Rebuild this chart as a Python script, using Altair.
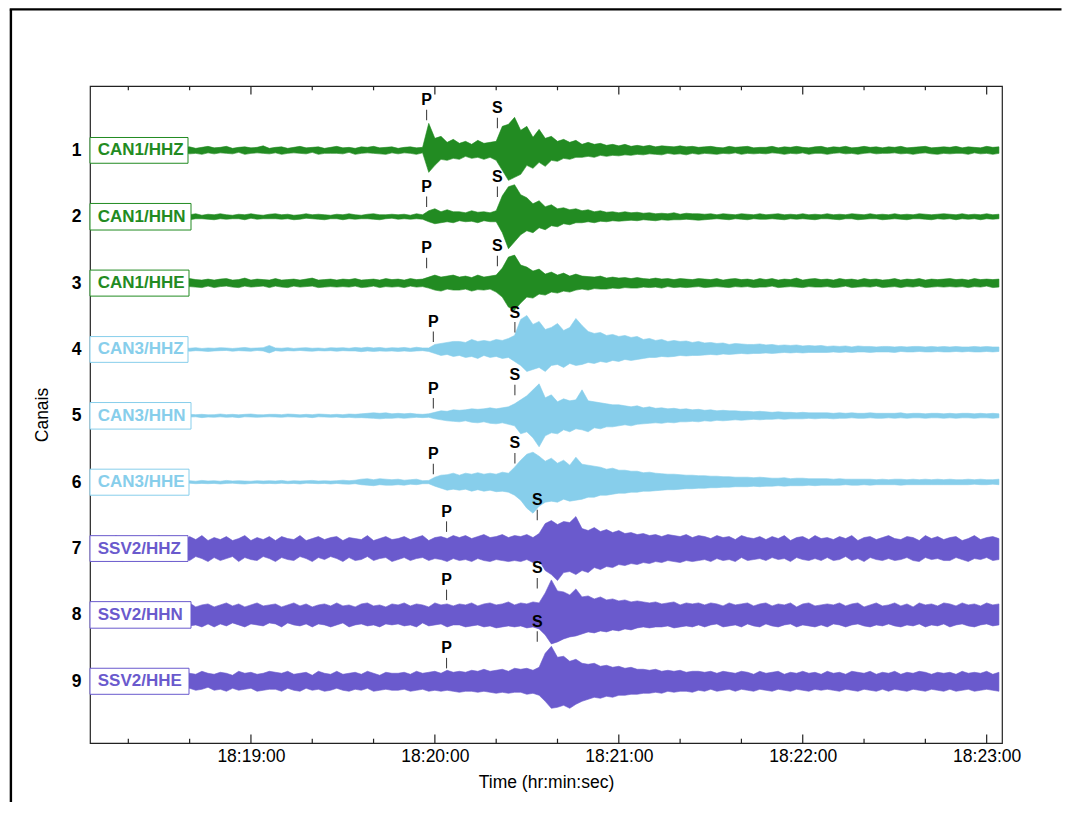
import altair as alt
import pandas as pd

# ---------------- data ----------------
# time axis: samples every 2 s, starting 8 s after 18:18:00
T_START = 8.0
T_STEP = 2.0

trace_names = ["CAN1/HHZ", "CAN1/HHN", "CAN1/HHE",
               "CAN3/HHZ", "CAN3/HHN", "CAN3/HHE",
               "SSV2/HHZ", "SSV2/HHN", "SSV2/HHE"]
trace_channel = [1, 2, 3, 4, 5, 6, 7, 8, 9]
stations = ["CAN1", "CAN3", "SSV2"]
station_colors = ["#228B22", "#87CEEB", "#6A5ACD"]

# upward / downward excursion of each trace (66.4 units = one trace spacing)
up_can1_hhz = [3, 2, 3.5, 4, 2.5, 3, 2, 4.5, 3, 2.5,  3.5, 2, 3, 2.5, 4, 3, 3.5, 2, 3, 4,
               2.5, 3, 4, 2, 3, 3.5, 2.5, 3, 4.5, 2,  3, 3.5, 2, 3, 4, 2.5, 3, 3.5, 2, 3,
               4, 2.5, 3, 2, 3.5, 3, 4, 2.5, 3, 3.5,  2, 3, 3.5, 2.5, 3, 27, 12, 14, 8, 11,
               7, 9, 6, 10, 7, 8, 9, 24, 26, 33,  20, 24, 13, 21, 12, 14, 9, 11, 8, 10,
               6, 8, 6, 7, 5, 6, 4.5, 6, 4, 5,  4, 5, 3.5, 4.5, 4, 3.5, 4.5, 3.5, 4, 3,
               3.5, 4, 3, 2.5, 4, 3, 3.5, 4, 2.5, 3,  3, 4, 2.5, 3.5, 3, 4, 3, 2.5, 3.5, 4,
               2.5, 3.5, 3, 4, 2.5, 3, 4, 3, 3.5, 2.5,  3.5, 3, 4, 2.5, 3, 3.5, 4, 2.5, 3, 3.5,
               3, 4, 2.5, 3.5, 3, 2.5, 4, 3, 3.5]
dn_can1_hhz = [2.5, 3.5, 3, 2, 4, 3, 3.5, 2.5, 3, 4,  3, 3.5, 2.5, 4, 3, 2, 3.5, 3, 4, 2.5,
               3.5, 2.5, 3, 3.5, 2, 4, 3, 2.5, 3, 3.5,  2.5, 4, 3, 2.5, 3, 3.5, 2, 4, 3, 3,
               3, 3.5, 2, 4, 3, 2.5, 3, 3.5, 4, 2.5,  3.5, 2.5, 3, 4, 2.5, 22, 15, 9, 10, 8,
               9, 6, 8, 7, 9, 7, 10, 20, 30, 27,  24, 15, 18, 12, 16, 10, 11, 8, 9, 7,
               7, 6, 7, 5, 6, 5, 5.5, 4.5, 5, 4,  4.5, 3.5, 4, 4.5, 3, 4, 3.5, 4.5, 3, 4,
               3, 3.5, 4, 3, 3.5, 2.5, 4, 3, 3.5, 3,  3.5, 2.5, 3, 4, 3, 3.5, 2.5, 4, 3, 3,
               4, 3, 2.5, 3.5, 3, 4, 3, 2.5, 3.5, 3,  3, 2.5, 3.5, 3, 4, 3, 2.5, 3.5, 4, 3,
               3.5, 3, 3, 4, 2.5, 3.5, 3, 4, 3]
up_can1_hhn = [2, 1.5, 2.5, 3, 2, 1.5, 2.5, 2, 3, 1.5,  2.5, 2, 1.5, 3, 2.5, 2, 2, 3, 1.5, 2.5,
               2, 3, 2, 1.5, 2.5, 2, 3, 2, 1.5, 2.5,  3, 2, 2.5, 1.5, 2, 3, 2, 2.5, 2, 1.5,
               2.5, 2, 3, 2, 1.5, 2.5, 3, 2, 2, 2.5,  2, 2.5, 1.5, 3, 2, 6, 8, 5, 7, 5,
               5, 4, 6, 4.5, 5, 4, 6, 21, 30, 32,  22, 19, 13, 16, 10, 12, 8, 9, 7, 8,
               6, 7, 5, 6, 4.5, 5, 4, 5, 4, 4.5,  3.5, 4, 3, 3.5, 3, 4, 2.5, 3.5, 3, 3,
               2.5, 3, 2, 3, 2.5, 2, 3, 2.5, 2, 3,  2, 2.5, 3, 2, 2.5, 2, 3, 2, 2.5, 2,
               3, 2, 2.5, 2, 3, 2.5, 2, 3, 2, 2.5,  2, 3, 2, 2.5, 2, 3, 2.5, 2, 2.5, 3,
               2.5, 2, 3, 2, 2.5, 2, 3, 2, 2.5]
dn_can1_hhn = [2.5, 2, 2, 1.5, 3, 2.5, 2, 1.5, 2.5, 2,  2, 2.5, 3, 2, 1.5, 2.5, 3, 2, 2, 2.5,
               3, 2, 2.5, 2, 2, 3, 1.5, 2.5, 2, 2,  2, 2.5, 2, 3, 2.5, 1.5, 2, 2.5, 3, 2,
               2, 3, 2, 2.5, 2, 2, 2.5, 3, 2, 1.5,  2.5, 2, 2.5, 2, 2.5, 5, 7, 6, 5, 6,
               4, 5, 4.5, 6, 4, 5, 5, 16, 32, 25,  18, 14, 16, 11, 13, 9, 10, 7, 8, 6,
               6, 5, 6, 4.5, 5, 4, 4.5, 4, 3.5, 4,  3, 3.5, 4, 3, 3.5, 3, 3, 2.5, 3, 3.5,
               3, 2.5, 2, 2.5, 3, 2, 2.5, 3, 2, 2.5,  2.5, 2, 2.5, 3, 2, 2.5, 2, 2.5, 3, 2,
               2, 2.5, 3, 2, 2, 3, 2.5, 2, 2, 3,  2.5, 2, 2.5, 3, 2, 2, 2.5, 3, 2, 2.5,
               2, 3, 2, 2.5, 2, 3, 2, 2.5, 2]
up_can1_hhe = [3.5, 3, 5, 2.5, 4, 3.5, 4.5, 3, 4, 3,  4, 5, 3, 3.5, 4, 3, 4.5, 3.5, 3, 4,
               3, 4, 4.5, 3, 3.5, 5, 3, 4, 3.5, 3,  4.5, 3, 3.5, 4, 3, 4, 5, 3, 3.5, 4,
               3, 4, 3.5, 4.5, 3, 3.5, 4, 3, 4.5, 3.5,  4, 3, 4.5, 3.5, 4, 6, 8, 6, 7, 8,
               6, 7, 5.5, 8, 6, 7, 8, 15, 26, 28,  18, 16, 12, 14, 9, 11, 8, 10, 7, 9,
               7, 6.5, 6, 7, 5, 6, 5, 5.5, 4.5, 5.5,  4.5, 4, 5, 4, 4.5, 3.5, 4.5, 4, 3.5, 4.5,
               4, 3.5, 4.5, 3, 4, 4.5, 3.5, 4, 3, 4.5,  3.5, 4.5, 3, 4, 3.5, 5, 3, 4, 4.5, 3.5,
               4, 3, 4.5, 3.5, 4, 3, 4.5, 3.5, 4, 3,  3.5, 4.5, 3, 4, 3.5, 4.5, 3, 4, 3.5, 4,
               4.5, 3.5, 4, 3, 4.5, 3.5, 4, 3.5, 4]
dn_can1_hhe = [4, 3.5, 3, 4.5, 3.5, 4, 3, 5, 3.5, 4,  3.5, 3, 4.5, 4, 3, 4.5, 3.5, 4, 4.5, 3,
               4.5, 3.5, 3, 4, 4.5, 3, 4, 3.5, 3, 4.5,  3, 4, 4.5, 3, 4, 3.5, 3, 4.5, 4, 3.5,
               4, 3.5, 4, 3, 4.5, 4, 3, 4.5, 3.5, 4,  3.5, 4.5, 3, 4, 3.5, 5, 7, 8, 6, 7,
               7, 6, 8, 6.5, 7, 6, 9, 14, 24, 27,  20, 14, 15, 11, 12, 9, 10, 8, 9, 7,
               6, 7, 5.5, 6, 6, 5, 5.5, 4.5, 5, 5,  4, 4.5, 4, 5, 3.5, 4.5, 4, 4.5, 4, 3.5,
               4.5, 4, 3.5, 4, 4.5, 3.5, 4, 3.5, 4.5, 4,  4, 3, 4.5, 4, 3.5, 4, 4.5, 3.5, 4, 4,
               3.5, 4.5, 4, 3, 4.5, 4, 3.5, 4, 3, 4.5,  4, 3.5, 4.5, 3.5, 4, 3, 4.5, 4, 3.5, 4,
               3.5, 4, 3.5, 4.5, 3.5, 4, 3, 4.5, 4]
up_can3_hhz = [1.5, 1, 2, 1.5, 1.2, 1.8, 1, 1.5, 2, 1.2,  1.8, 1.2, 1.5, 1, 2, 1.5, 1.2, 1.8, 1, 1.5,
               1.2, 1.8, 1.5, 1, 1.5, 2, 1.2, 1.5, 1.8, 4,  1.5, 1.2, 1.8, 1, 1.5, 1.8, 1.2, 1.5, 1, 1.8,
               1.5, 1.8, 1.2, 2, 1.5, 2.2, 1.5, 2, 1.2, 1.8,  1.5, 2, 1.2, 2.2, 1.5, 1.5, 5, 6, 7, 8,
               8, 7, 10, 8, 9, 8, 10, 9, 11, 14,  30, 34, 25, 28, 20, 22, 26, 19, 22, 31,
               24, 18, 16, 17, 14, 15, 13, 14, 12, 13,  10, 11, 9, 10, 8, 9, 8, 8.5, 7, 8,
               6.5, 7, 6, 6.5, 5, 6, 5.5, 5, 5, 5.5,  4.5, 5, 4, 4.5, 4, 4.5, 3.5, 4, 3.5, 4,
               3, 3.5, 3, 3.5, 2.5, 3.5, 3, 3, 2.5, 3,  3, 2.5, 3, 2.5, 3, 3, 2.5, 3, 2.5, 3,
               2.5, 3, 2.5, 2.5, 3, 2.5, 3, 2.5, 2.5]
dn_can3_hhz = [1.2, 1.8, 1.2, 1, 1.8, 1.2, 1.5, 2, 1.2, 1.5,  1, 1.5, 1.8, 1.5, 1.2, 1, 1.8, 1.2, 1.5, 2,
               1.5, 1.2, 1, 1.8, 1.2, 1.5, 1.8, 1, 1.5, 3.5,  1.2, 1.8, 1.2, 1.5, 1, 1.5, 1.8, 1.2, 1.5, 1.2,
               1.8, 1.2, 1.5, 1.5, 2.2, 1.5, 2, 1.5, 1.8, 1.5,  2, 1.5, 2, 1.5, 1.2, 2, 4, 6, 5, 7,
               6, 8, 7, 9, 6, 8, 7, 9, 8, 12,  16, 22, 20, 18, 22, 16, 15, 18, 14, 16,
               15, 13, 14, 12, 13, 11, 12, 10, 11, 10,  9, 8, 8, 7, 7.5, 7, 6, 6.5, 6, 6,
               5.5, 5, 5.5, 4.5, 5, 4.5, 4, 4.5, 4, 4,  3.5, 4, 3.5, 3, 3.5, 3, 3.5, 3, 3, 3,
               3, 2.5, 3, 2.5, 3, 2.5, 2.5, 3, 2.5, 2.5,  2.5, 3, 2, 2.5, 2.5, 2, 2.5, 2.5, 2, 2.5,
               2.5, 2, 2.5, 2, 2.5, 2.5, 2, 2.5, 2]
up_can3_hhn = [1.2, 1.5, 1, 1.8, 1.2, 1.5, 1, 1.5, 1.8, 1.2,  1.5, 1, 1.5, 1.2, 1.8, 1, 1.5, 1.2, 1.5, 1,
               1.2, 1.8, 1.2, 1.5, 1, 1.5, 1.8, 1.2, 1, 1.5,  1.5, 1.2, 1.8, 1.5, 1, 1.5, 1.2, 1.8, 1.5, 1.2,
               1.5, 1.2, 1.8, 1.5, 2, 2.5, 3, 2.5, 3, 2,  2.5, 2, 2.5, 1.8, 1.5, 2, 3.5, 5, 4.5, 6,
               5.5, 6, 7, 6.5, 7, 8, 7, 8, 9, 12,  16, 20, 26, 32, 18, 21, 14, 17, 15, 16,
               26, 15, 14, 13, 12, 11, 11, 10, 9, 10,  8, 9, 7.5, 8, 7, 7.5, 6.5, 7, 6, 6.5,
               5.5, 6, 5, 5.5, 5, 5, 4.5, 4.5, 4, 4.5,  4, 3.5, 4, 3.5, 3.5, 3, 3.5, 3, 3, 3,
               3, 2.5, 3, 2.5, 3, 2.5, 2.5, 3, 2.5, 2.5,  2.5, 2.5, 3, 2, 2.5, 2.5, 2, 2.5, 2.5, 2,
               2.5, 2, 2.5, 2.5, 2, 2.5, 2, 2.5, 2]
dn_can3_hhn = [1.5, 1, 1.5, 1.2, 1.5, 1, 1.8, 1.2, 1, 1.5,  1, 1.8, 1.2, 1.5, 1, 1.5, 1.2, 1, 1.8, 1.2,
               1.5, 1, 1.5, 1.2, 1.8, 1, 1.2, 1.5, 1.2, 1,  1.2, 1.5, 1, 1.2, 1.5, 1.2, 1.8, 1, 1.2, 1.5,
               1.2, 1.8, 1.5, 2, 1.8, 2.2, 2.5, 3, 2.5, 2.5,  2, 2.5, 2, 1.5, 1.8, 1.5, 3, 4, 5, 5.5,
               6, 5, 6.5, 7, 6, 7.5, 8, 7, 8.5, 10,  18, 16, 22, 31, 20, 17, 18, 14, 16, 13,
               14, 16, 12, 13, 11, 11, 10, 9, 10, 8.5,  8, 7.5, 7, 7.5, 6.5, 7, 6, 6, 5.5, 6,
               5, 5.5, 4.5, 5, 4.5, 4, 4.5, 4, 3.5, 4,  3.5, 3.5, 3, 3.5, 3, 3, 3, 2.5, 3, 2.5,
               2.5, 3, 2.5, 2.5, 2, 2.5, 2.5, 2, 2.5, 2.5,  2, 2.5, 2, 2.5, 2, 2, 2.5, 2, 2, 2.5,
               2, 2.5, 2, 2, 2.5, 2, 2, 2.5, 2]
up_can3_hhe = [1.5, 1.2, 1, 1.8, 1.2, 1.5, 1, 1.5, 1.2, 1.8,  1, 1.5, 1.2, 1.8, 1, 1.2, 1.5, 1, 1.8, 1.2,
               1.5, 1, 1.8, 1.2, 1.5, 1.2, 1, 1.5, 1.2, 1.5,  1.2, 1.8, 1, 1.5, 1.2, 1.5, 1.8, 1.2, 1.5, 1.2,
               1.5, 2, 1.5, 2, 3, 3.5, 2.5, 3.5, 3, 2.5,  3, 2, 2.5, 3, 1.5, 1.8, 5, 7, 7.5, 9,
               7, 9, 8, 9.5, 8, 9, 8, 10, 9, 15,  22, 28, 30, 26, 21, 24, 19, 22, 17, 25,
               18, 17, 16, 15, 13, 14, 12, 12, 11, 11,  9.5, 10, 9, 8.5, 8, 8, 7.5, 7, 7, 6.5,
               6.5, 6, 6, 5.5, 5.5, 5, 5, 5, 4.5, 5,  4.5, 4, 4, 4.5, 3.5, 4, 4, 3.5, 3.5, 3.5,
               3.5, 3, 3.5, 3, 3, 3, 3, 3, 2.5, 3,  2.5, 3, 3, 2.5, 3, 2.5, 3, 2.5, 3, 2.5,
               3, 2.5, 2.5, 3, 2.5, 3, 2.5, 2.5, 3]
dn_can3_hhe = [1.2, 1.5, 1.8, 1, 1.5, 1.2, 1.8, 1, 1.5, 1.2,  1.5, 1.2, 1, 1.5, 1.8, 1.2, 1, 1.5, 1.2, 1.5,
               1.2, 1.8, 1.2, 1, 1.5, 1.8, 1.2, 1, 1.5, 1.2,  1.5, 1, 1.5, 1.2, 1.8, 1, 1.2, 1.5, 1.2, 1.8,
               1.2, 1.8, 2, 1.5, 2.5, 3, 3.5, 2.5, 3, 3,  2.5, 3, 2, 2.5, 1.5, 1.5, 4, 6, 8, 7,
               8, 7, 9, 7.5, 9, 8, 9.5, 9, 10, 13,  18, 26, 31, 24, 20, 19, 20, 17, 19, 18,
               17, 15, 15, 13, 13, 12, 11, 11, 10, 10,  9, 9, 8.5, 8, 7.5, 7.5, 7, 6.5, 6.5, 6,
               6, 5.5, 5.5, 5, 5, 4.5, 4.5, 4.5, 4, 4.5,  4, 4, 3.5, 4, 3.5, 3.5, 3.5, 3, 3.5, 3,
               3, 3, 3, 2.5, 3, 3, 2.5, 3, 2.5, 2.5,  2.5, 2.5, 3, 2.5, 2.5, 2.5, 2.5, 2.5, 2.5, 2.5,
               2.5, 2.5, 2.5, 2.5, 2, 2.5, 2.5, 2, 2.5]
up_ssv2_hhz = [10, 8, 12, 9, 13, 7, 11, 10, 8, 12,  9, 13, 8, 10, 11, 7, 12, 9, 13, 8,
               11, 9, 12, 8, 10, 13, 8, 11, 9, 12,  8, 12, 10, 9, 13, 8, 10, 12, 9, 11,
               12, 8, 11, 10, 9, 13, 8, 10, 12, 9,  10, 12, 9, 11, 13, 8, 11, 12, 10, 13,
               11, 13, 10, 12, 14, 11, 12, 14, 11, 13,  12, 14, 11, 15, 25, 28, 24, 27, 26, 32,
               20, 18, 21, 17, 19, 16, 18, 15, 16, 14,  15, 13, 14, 12, 14, 13, 12, 14, 11, 13,
               12, 10, 13, 11, 12, 9, 13, 11, 10, 12,  9, 12, 10, 13, 8, 11, 12, 9, 13, 10,
               11, 9, 12, 10, 13, 8, 11, 12, 9, 11,  13, 10, 9, 12, 11, 8, 13, 10, 12, 9,
               11, 12, 8, 10, 13, 9, 11, 12, 10]
dn_ssv2_hhz = [9, 12, 8, 11, 10, 13, 8, 12, 10, 9,  12, 8, 11, 13, 9, 10, 12, 8, 10, 13,
               9, 12, 10, 8, 13, 9, 11, 12, 8, 10,  13, 9, 11, 12, 8, 10, 13, 9, 11, 8,
               10, 13, 9, 12, 11, 8, 12, 10, 9, 13,  11, 9, 12, 10, 9, 12, 10, 11, 13, 10,
               12, 11, 13, 10, 12, 13, 11, 12, 13, 12,  13, 11, 14, 12, 22, 26, 32, 24, 23, 26,
               22, 24, 19, 21, 18, 19, 16, 17, 15, 16,  14, 15, 13, 14, 12, 13, 14, 12, 13, 12,
               11, 13, 10, 12, 11, 13, 9, 12, 11, 10,  12, 9, 11, 10, 13, 9, 11, 12, 10, 12,
               9, 12, 11, 8, 12, 10, 13, 9, 11, 12,  10, 12, 11, 9, 12, 13, 9, 11, 10, 12,
               12, 9, 11, 13, 10, 11, 9, 12, 11]
up_ssv2_hhn = [9, 11, 8, 12, 10, 7, 11, 9, 12, 8,  10, 12, 9, 8, 11, 10, 12, 8, 10, 11,
               8, 10, 12, 9, 11, 8, 10, 12, 9, 10,  11, 8, 10, 12, 9, 11, 8, 10, 11, 9,
               12, 9, 10, 8, 11, 12, 9, 10, 8, 11,  10, 12, 9, 11, 10, 8, 12, 10, 11, 9,
               11, 10, 12, 9, 11, 12, 10, 11, 13, 10,  12, 11, 13, 12, 22, 35, 24, 23, 20, 26,
               18, 19, 16, 18, 15, 16, 14, 15, 13, 14,  13, 12, 13, 11, 12, 13, 10, 12, 11, 12,
               10, 12, 11, 9, 12, 10, 11, 12, 9, 11,  12, 9, 11, 10, 12, 8, 11, 12, 9, 10,
               11, 10, 12, 9, 11, 12, 8, 10, 12, 9,  10, 12, 9, 11, 8, 12, 10, 11, 9, 12,
               11, 9, 12, 10, 11, 9, 12, 10, 11]
dn_ssv2_hhn = [11, 8, 10, 12, 9, 11, 8, 12, 10, 9,  8, 11, 10, 12, 9, 8, 11, 10, 12, 9,
               12, 9, 11, 8, 10, 12, 9, 10, 11, 8,  9, 12, 8, 10, 11, 9, 12, 9, 10, 12,
               10, 8, 12, 10, 9, 11, 10, 12, 9, 10,  9, 11, 10, 12, 8, 11, 10, 9, 12, 10,
               10, 12, 11, 10, 12, 11, 13, 12, 11, 12,  11, 13, 12, 14, 20, 29, 27, 24, 22, 21,
               19, 17, 18, 16, 17, 15, 16, 14, 15, 13,  12, 13, 12, 12, 11, 13, 12, 11, 12, 10,
               12, 10, 9, 12, 11, 10, 12, 9, 11, 12,  9, 11, 12, 10, 9, 12, 10, 11, 12, 10,
               12, 9, 10, 12, 10, 9, 11, 12, 10, 11,  9, 11, 12, 10, 11, 9, 12, 10, 11, 9,
               12, 10, 9, 11, 12, 10, 9, 11, 10]
up_ssv2_hhe = [8, 6, 10, 7, 9, 8, 6, 9, 10, 7,  9, 7, 8, 10, 6, 9, 8, 7, 10, 8,
               7, 9, 8, 6, 10, 8, 9, 7, 8, 10,  9, 8, 10, 7, 8, 9, 6, 10, 8, 7,
               10, 7, 8, 9, 7, 10, 8, 6, 9, 8,  8, 9, 7, 10, 8, 9, 10, 8, 11, 9,
               10, 9, 11, 10, 12, 10, 11, 12, 10, 13,  12, 13, 11, 14, 28, 35, 24, 25, 20, 22,
               18, 17, 18, 15, 16, 14, 15, 13, 14, 12,  12, 11, 12, 10, 11, 10, 11, 9, 10, 10,
               9, 10, 8, 10, 9, 8, 10, 9, 7, 10,  8, 9, 10, 7, 9, 8, 10, 8, 9, 7,
               10, 8, 9, 7, 10, 9, 8, 10, 7, 9,  8, 10, 7, 9, 8, 10, 9, 7, 9, 8,
               9, 7, 10, 8, 9, 8, 10, 7, 9]
dn_ssv2_hhe = [7, 9, 8, 10, 6, 9, 8, 10, 7, 8,  10, 8, 7, 9, 8, 10, 7, 9, 8, 6,
               9, 8, 10, 7, 9, 8, 7, 10, 9, 8,  8, 10, 7, 9, 10, 7, 9, 8, 10, 9,
               7, 9, 10, 8, 9, 7, 10, 9, 8, 9,  9, 8, 10, 9, 8, 10, 9, 10, 9, 10,
               11, 10, 10, 11, 10, 11, 12, 11, 12, 11,  11, 13, 12, 14, 20, 27, 26, 24, 27, 23,
               20, 18, 16, 17, 15, 16, 14, 14, 13, 13,  12, 12, 11, 12, 10, 11, 10, 10, 11, 9,
               10, 8, 10, 9, 8, 10, 8, 9, 10, 8,  9, 10, 8, 9, 10, 8, 9, 10, 8, 9,
               8, 9, 10, 8, 9, 10, 8, 9, 10, 8,  10, 8, 9, 10, 8, 9, 10, 8, 9, 10,
               8, 10, 9, 8, 10, 9, 8, 9, 10]

trace_up = [up_can1_hhz, up_can1_hhn, up_can1_hhe,
            up_can3_hhz, up_can3_hhn, up_can3_hhe,
            up_ssv2_hhz, up_ssv2_hhn, up_ssv2_hhe]
trace_dn = [dn_can1_hhz, dn_can1_hhn, dn_can1_hhe,
            dn_can3_hhz, dn_can3_hhn, dn_can3_hhe,
            dn_ssv2_hhz, dn_ssv2_hhn, dn_ssv2_hhe]

# phase picks, seconds after 18:18:00
p_pick = [117.3, 117.3, 117.3, 119.5, 119.5, 119.5, 123.8, 123.8, 123.8]
s_pick = [140.4, 140.4, 140.4, 146.1, 146.1, 146.1, 153.4, 153.4, 153.4]

tick_labels = ["18:19:00", "18:20:00", "18:21:00", "18:22:00", "18:23:00"]
tick_seconds = [20, 40, 60, 80, 100, 120, 140, 160, 180, 200, 220, 240, 260, 280, 300]

# ---------------- layout / style (not data) ----------------
W, H = 912, 657
Y_DOMAIN = [0.03, 9.93]
PX_PER_UNIT = H / (Y_DOMAIN[1] - Y_DOMAIN[0])
AMP_UNIT = PX_PER_UNIT          # amplitude units per trace spacing
p_mark_offset = [30, 9.7, 14.8, 7.5, 7.3, 8, 16.7, 14.8, 12.9]     # px above trace
s_mark_offset = [22, 19.7, 16.8, 16.9, 20.6, 18.7, 28.4, 26.5, 39.5]
MARK_LEN, MARK_GAP = 10.5, 4.5
box_width = {"HHZ": 98, "HHN": 101, "HHE": 99}
FONT = "Liberation Sans"


def ts(sec):
    total = 18 * 3600 + 18 * 60 + sec
    h = int(total // 3600)
    m = int(total % 3600 // 60)
    s = total % 60
    return f"2000-01-01T{h:02d}:{m:02d}:{s:06.3f}"


def dt(minutes, seconds=0, ms=0):
    return alt.DateTime(year=2000, month=1, date=1, hours=18, minutes=minutes,
                        seconds=seconds, milliseconds=ms)


# ---------------- tables ----------------
rows = []
for name, ch, ups, dns in zip(trace_names, trace_channel, trace_up, trace_dn):
    assert len(ups) == 149 and len(dns) == 149, (name, len(ups), len(dns))
    for i, (u, d) in enumerate(zip(ups, dns)):
        rows.append({"t": ts(T_START + T_STEP * i), "trace": name,
                     "station": name.split("/")[0], "ch": ch,
                     "lo": ch - u / AMP_UNIT, "hi": ch + d / AMP_UNIT})
wave_df = pd.DataFrame(rows)

lab_df = pd.DataFrame({
    "trace": trace_names, "ch": trace_channel,
    "station": [n.split("/")[0] for n in trace_names],
    "bsize": [box_width[n.split("/")[1]] ** 2 for n in trace_names],
})

pick_rows = []
for name, ch, tp, tsv, op, osv in zip(trace_names, trace_channel, p_pick, s_pick,
                                     p_mark_offset, s_mark_offset):
    for lab, t, off in (("P", tp, op), ("S", tsv, osv)):
        pick_rows.append({"t": ts(t), "label": lab,
                          "y1": ch - off / PX_PER_UNIT,
                          "y2": ch - (off + MARK_LEN) / PX_PER_UNIT,
                          "ytxt": ch - (off + MARK_LEN + MARK_GAP) / PX_PER_UNIT})
pick_df = pd.DataFrame(pick_rows)

tick_df = pd.DataFrame({"t": [ts(s) for s in tick_seconds],
                        "major": [s % 60 == 0 for s in tick_seconds]})
one = pd.DataFrame({"a": [0]})

# ---------------- scales / axes ----------------
xscale = alt.Scale(domain=[dt(18, 7, 500), dt(23, 5)], nice=False)
yscale = alt.Scale(domain=Y_DOMAIN, reverse=True, nice=False, zero=False)
cscale = alt.Scale(domain=stations, range=station_colors)

xaxis = alt.Axis(values=[dt(m) for m in range(19, 24)], format="%H:%M:%S",
                 title="Time (hr:min:sec)", labelFontSize=17.5, titleFontSize=17.5,
                 titleFontWeight="normal", labelPadding=4.5, titlePadding=8,
                 ticks=False, domain=False, grid=False, labelColor="black",
                 titleColor="black", labelFont=FONT, titleFont=FONT)
yaxis = alt.Axis(values=trace_channel, format="d", title="Canais", labelFontSize=17.5,
                 labelFontWeight="bold",
                 titleFontSize=17.5, titleFontWeight="normal", labelPadding=9,
                 titlePadding=20, ticks=False, domain=False, grid=False,
                 labelColor="black", titleColor="black", labelFont=FONT, titleFont=FONT)


def X(field="t:T"):
    return alt.X(field, scale=xscale, axis=xaxis)


def Y(field):
    return alt.Y(field, scale=yscale, axis=yaxis)


waves = alt.Chart(wave_df).mark_area(strokeWidth=0.6, opacity=1).encode(
    x=X(),
    y=Y("lo:Q"),
    y2="hi:Q",
    color=alt.Color("station:N", scale=cscale, legend=None),
    stroke=alt.Stroke("station:N", scale=cscale, legend=None),
    detail="trace:N",
)

box_shape = "M0,-0.263L2,-0.263L2,0.263L0,0.263Z"
boxes = alt.Chart(lab_df).mark_point(shape=box_shape, filled=True, fill="white",
                                     strokeWidth=1, opacity=1).encode(
    x=alt.value(0),
    y=Y("ch:Q"),
    size=alt.Size("bsize:Q", scale=None, legend=None),
    stroke=alt.Stroke("station:N", scale=cscale, legend=None),
)
labels = alt.Chart(lab_df).mark_text(align="left", baseline="middle", fontSize=17,
                                     fontWeight="bold", font=FONT).encode(
    x=alt.value(7.7),
    y=Y("ch:Q"),
    text="trace:N",
    color=alt.Color("station:N", scale=cscale, legend=None),
)

pick_ticks = alt.Chart(pick_df).mark_rule(color="#444", strokeWidth=1.1).encode(
    x=X(), y=Y("y1:Q"), y2="y2:Q",
)
pick_text = alt.Chart(pick_df).mark_text(align="center", baseline="alphabetic",
                                         fontSize=16, fontWeight="bold", font=FONT,
                                         color="black").encode(
    x=X(), y=Y("ytxt:Q"), text="label:N",
)


def axis_ticks(major, top):
    L = 8.5 if major else 4.3
    y0, y1 = (0, L) if top else (H, H - L)
    return alt.Chart(tick_df).transform_filter(
        alt.datum.major if major else ~alt.datum.major
    ).mark_rule(color="#222", strokeWidth=1.2).encode(
        x=X(), y=alt.value(y0), y2=alt.value(y1),
    )


frame_left = alt.Chart(one).mark_rule(color="black", strokeWidth=2.4).encode(
    x=alt.value(-79.1), y=alt.value(-76.5), y2=alt.value(716))
frame_top = alt.Chart(one).mark_rule(color="black", strokeWidth=2.2).encode(
    x=alt.value(-80.3), x2=alt.value(971.5), y=alt.value(-76.6))

chart = alt.layer(
    waves, boxes, labels, pick_ticks, pick_text,
    axis_ticks(True, True), axis_ticks(False, True),
    axis_ticks(True, False), axis_ticks(False, False),
    frame_left, frame_top,
).properties(
    width=W, height=H,
    padding={"left": 0, "top": 0, "right": 0, "bottom": 0},
).configure(
    font=FONT, background="white"
).configure_view(
    stroke="#222", strokeWidth=1.2
)

chart.save("out.html", embed_options={"renderer": "svg", "actions": False})
